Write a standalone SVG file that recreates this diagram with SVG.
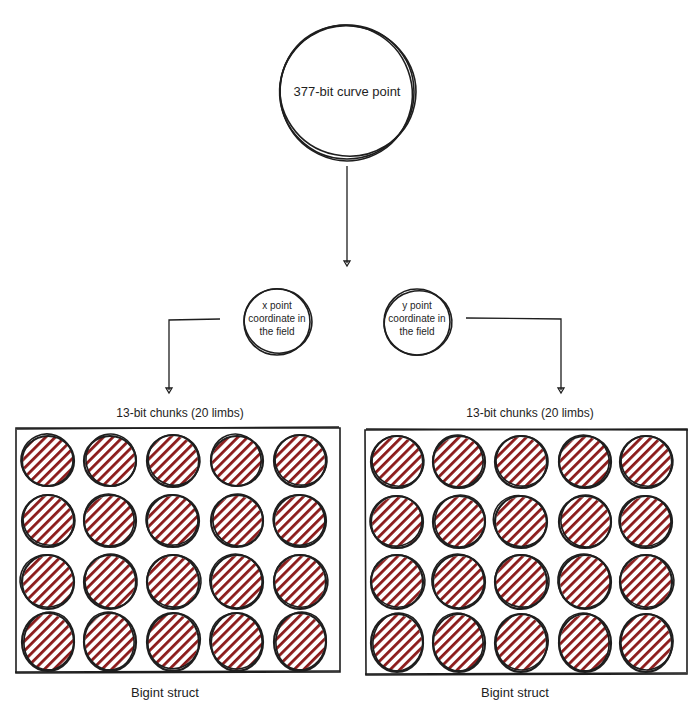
<svg xmlns="http://www.w3.org/2000/svg" width="700" height="712" viewBox="0 0 700 712">
<style>
.t{font-family:"Liberation Sans","DejaVu Sans",sans-serif;fill:#1e1e1e;text-anchor:middle}
.s{fill:none;stroke:#1e1e1e;stroke-width:1.6}
.sk{fill:none;stroke:#1e1e1e;stroke-width:2.2}
.h{fill:url(#hatch)}
.c{fill:none;stroke:#1e1e1e;stroke-width:1.3}
</style>
<defs>
<pattern id="hatch" patternUnits="userSpaceOnUse" width="6.8" height="6.8" patternTransform="rotate(45)">
<rect x="0" y="0" width="2.8" height="6.8" fill="#8b1a1a"/>
</pattern>
</defs>
<rect width="700" height="712" fill="#fff"/>

<g id="curve-point">
<ellipse class="s" cx="347" cy="92" rx="67" ry="67"/>
<ellipse class="s" cx="348" cy="91" rx="68" ry="65" transform="rotate(12 348 91)"/>
<ellipse class="s" cx="346" cy="93" rx="66" ry="68" transform="rotate(-20 346 93)"/>
<text class="t" x="347" y="96" font-size="13">377-bit curve point</text>
</g>

<g id="x-coord">
<ellipse class="s" cx="277" cy="322" rx="33" ry="33"/>
<ellipse class="s" cx="278" cy="321" rx="34" ry="32" transform="rotate(15 278 321)"/>
<text class="t" x="277" y="309" font-size="10">x point</text>
<text class="t" x="277" y="322" font-size="10">coordinate in</text>
<text class="t" x="277" y="335" font-size="10">the field</text>
</g>

<g id="y-coord">
<ellipse class="s" cx="417" cy="322" rx="33" ry="33"/>
<ellipse class="s" cx="418" cy="323" rx="34" ry="32" transform="rotate(-15 418 323)"/>
<text class="t" x="417" y="309" font-size="10">y point</text>
<text class="t" x="417" y="322" font-size="10">coordinate in</text>
<text class="t" x="417" y="335" font-size="10">the field</text>
</g>

<g id="connectors">
<path class="c" d="M347 166 L347 263"/>
<path class="c" d="M344 261 L347 266 L350 261 Z"/>
<path class="c" d="M220 319 L169 320 L169 390"/>
<path class="c" d="M166 388 L169 393 L172 388 Z"/>
<path class="c" d="M466 318 L561 319 L561 390"/>
<path class="c" d="M558 388 L561 393 L564 388 Z"/>
</g>

<g id="label-left-chunks"><text class="t" x="180" y="417" font-size="12">13-bit chunks (20 limbs)</text></g>
<g id="label-right-chunks"><text class="t" x="530" y="417" font-size="12">13-bit chunks (20 limbs)</text></g>

<g id="bigint-left">
<path class="s" d="M16 428 L340 428 L340 672 L16 673 Z"/>
<path class="s" d="M17 429 L339 427 M15 672 L340 671"/>
</g>
<g id="bigint-right">
<path class="s" d="M365 430 L687 429 L687 674 L366 675 Z"/>
<path class="s" d="M366 429 L688 430 M365 674 L686 673"/>
</g>

<g id="limbs-left">
<g id="L1"><ellipse class="h" cx="48" cy="461" rx="25" ry="25"/><ellipse class="sk" cx="48" cy="461" rx="26" ry="25"/><ellipse class="s" cx="47" cy="460" rx="26" ry="26" transform="rotate(20 47 460)"/></g>
<g id="L2"><ellipse class="h" cx="110" cy="461" rx="25" ry="25"/><ellipse class="sk" cx="110" cy="461" rx="26" ry="25"/><ellipse class="s" cx="111" cy="460" rx="25" ry="26" transform="rotate(-15 111 460)"/></g>
<g id="L3"><ellipse class="h" cx="173" cy="461" rx="25" ry="25"/><ellipse class="sk" cx="173" cy="461" rx="26" ry="26"/><ellipse class="s" cx="174" cy="460" rx="26" ry="25" transform="rotate(25 174 460)"/></g>
<g id="L4"><ellipse class="h" cx="237" cy="461" rx="25" ry="25"/><ellipse class="sk" cx="237" cy="461" rx="26" ry="25"/><ellipse class="s" cx="236" cy="460" rx="25" ry="26" transform="rotate(-20 236 460)"/></g>
<g id="L5"><ellipse class="h" cx="300" cy="461" rx="25" ry="25"/><ellipse class="sk" cx="300" cy="461" rx="26" ry="26"/><ellipse class="s" cx="301" cy="460" rx="26" ry="25" transform="rotate(15 301 460)"/></g>

<g id="L6"><ellipse class="h" cx="48" cy="521" rx="25" ry="25"/><ellipse class="sk" cx="48" cy="521" rx="26" ry="26"/><ellipse class="s" cx="49" cy="520" rx="26" ry="25" transform="rotate(20 49 520)"/></g>
<g id="L7"><ellipse class="h" cx="110" cy="521" rx="25" ry="25"/><ellipse class="sk" cx="110" cy="521" rx="26" ry="26"/><ellipse class="s" cx="109" cy="520" rx="25" ry="26" transform="rotate(-20 109 520)"/></g>
<g id="L8"><ellipse class="h" cx="173" cy="521" rx="25" ry="25"/><ellipse class="sk" cx="173" cy="521" rx="26" ry="26"/><ellipse class="s" cx="172" cy="520" rx="26" ry="25" transform="rotate(15 172 520)"/></g>
<g id="L9"><ellipse class="h" cx="237" cy="521" rx="25" ry="25"/><ellipse class="sk" cx="237" cy="521" rx="26" ry="26"/><ellipse class="s" cx="238" cy="520" rx="25" ry="26" transform="rotate(-15 238 520)"/></g>
<g id="L10"><ellipse class="h" cx="300" cy="521" rx="25" ry="25"/><ellipse class="sk" cx="300" cy="521" rx="26" ry="26"/><ellipse class="s" cx="299" cy="520" rx="26" ry="25" transform="rotate(25 299 520)"/></g>

<g id="L11"><ellipse class="h" cx="48" cy="582" rx="25" ry="26"/><ellipse class="sk" cx="48" cy="582" rx="26" ry="27"/><ellipse class="s" cx="47" cy="581" rx="27" ry="26" transform="rotate(20 47 581)"/></g>
<g id="L12"><ellipse class="h" cx="110" cy="582" rx="25" ry="26"/><ellipse class="sk" cx="110" cy="582" rx="26" ry="27"/><ellipse class="s" cx="111" cy="581" rx="26" ry="27" transform="rotate(-15 111 581)"/></g>
<g id="L13"><ellipse class="h" cx="173" cy="582" rx="25" ry="26"/><ellipse class="sk" cx="173" cy="582" rx="26" ry="27"/><ellipse class="s" cx="174" cy="581" rx="27" ry="26" transform="rotate(15 174 581)"/></g>
<g id="L14"><ellipse class="h" cx="237" cy="582" rx="25" ry="26"/><ellipse class="sk" cx="237" cy="582" rx="26" ry="27"/><ellipse class="s" cx="236" cy="581" rx="26" ry="27" transform="rotate(-20 236 581)"/></g>
<g id="L15"><ellipse class="h" cx="300" cy="582" rx="25" ry="26"/><ellipse class="sk" cx="300" cy="582" rx="26" ry="27"/><ellipse class="s" cx="301" cy="581" rx="27" ry="26" transform="rotate(20 301 581)"/></g>

<g id="L16"><ellipse class="h" cx="48" cy="642" rx="25" ry="28"/><ellipse class="sk" cx="48" cy="642" rx="26" ry="29"/><ellipse class="s" cx="49" cy="641" rx="25" ry="29" transform="rotate(10 49 641)"/></g>
<g id="L17"><ellipse class="h" cx="110" cy="642" rx="25" ry="28"/><ellipse class="sk" cx="110" cy="642" rx="26" ry="29"/><ellipse class="s" cx="109" cy="641" rx="25" ry="29" transform="rotate(-10 109 641)"/></g>
<g id="L18"><ellipse class="h" cx="173" cy="642" rx="25" ry="28"/><ellipse class="sk" cx="173" cy="642" rx="26" ry="29"/><ellipse class="s" cx="174" cy="641" rx="26" ry="28" transform="rotate(20 174 641)"/></g>
<g id="L19"><ellipse class="h" cx="237" cy="642" rx="25" ry="28"/><ellipse class="sk" cx="237" cy="642" rx="26" ry="29"/><ellipse class="s" cx="236" cy="641" rx="26" ry="28" transform="rotate(-15 236 641)"/></g>
<g id="L20"><ellipse class="h" cx="300" cy="642" rx="25" ry="28"/><ellipse class="sk" cx="300" cy="642" rx="26" ry="29"/><ellipse class="s" cx="301" cy="641" rx="25" ry="29" transform="rotate(10 301 641)"/></g>
</g>

<g id="limbs-right">
<g id="R1"><ellipse class="h" cx="397" cy="462" rx="25" ry="25"/><ellipse class="sk" cx="397" cy="462" rx="26" ry="26"/><ellipse class="s" cx="398" cy="461" rx="26" ry="25" transform="rotate(20 398 461)"/></g>
<g id="R2"><ellipse class="h" cx="459" cy="462" rx="25" ry="25"/><ellipse class="sk" cx="459" cy="462" rx="26" ry="26"/><ellipse class="s" cx="458" cy="461" rx="25" ry="26" transform="rotate(-15 458 461)"/></g>
<g id="R3"><ellipse class="h" cx="521" cy="462" rx="25" ry="25"/><ellipse class="sk" cx="521" cy="462" rx="26" ry="26"/><ellipse class="s" cx="522" cy="461" rx="26" ry="25" transform="rotate(15 522 461)"/></g>
<g id="R4"><ellipse class="h" cx="585" cy="462" rx="25" ry="25"/><ellipse class="sk" cx="585" cy="462" rx="26" ry="26"/><ellipse class="s" cx="584" cy="461" rx="25" ry="26" transform="rotate(-20 584 461)"/></g>
<g id="R5"><ellipse class="h" cx="646" cy="462" rx="25" ry="25"/><ellipse class="sk" cx="646" cy="462" rx="26" ry="26"/><ellipse class="s" cx="647" cy="461" rx="26" ry="25" transform="rotate(20 647 461)"/></g>

<g id="R6"><ellipse class="h" cx="397" cy="522" rx="25" ry="25"/><ellipse class="sk" cx="397" cy="522" rx="26" ry="26"/><ellipse class="s" cx="396" cy="521" rx="26" ry="25" transform="rotate(-15 396 521)"/></g>
<g id="R7"><ellipse class="h" cx="459" cy="522" rx="25" ry="25"/><ellipse class="sk" cx="459" cy="522" rx="26" ry="26"/><ellipse class="s" cx="460" cy="521" rx="25" ry="26" transform="rotate(20 460 521)"/></g>
<g id="R8"><ellipse class="h" cx="521" cy="522" rx="25" ry="25"/><ellipse class="sk" cx="521" cy="522" rx="26" ry="26"/><ellipse class="s" cx="520" cy="521" rx="27" ry="25" transform="rotate(25 520 521)"/></g>
<g id="R9"><ellipse class="h" cx="585" cy="522" rx="25" ry="25"/><ellipse class="sk" cx="585" cy="522" rx="26" ry="26"/><ellipse class="s" cx="586" cy="521" rx="25" ry="26" transform="rotate(-15 586 521)"/></g>
<g id="R10"><ellipse class="h" cx="646" cy="522" rx="25" ry="25"/><ellipse class="sk" cx="646" cy="522" rx="26" ry="26"/><ellipse class="s" cx="645" cy="521" rx="26" ry="25" transform="rotate(15 645 521)"/></g>

<g id="R11"><ellipse class="h" cx="397" cy="582" rx="25" ry="26"/><ellipse class="sk" cx="397" cy="582" rx="26" ry="27"/><ellipse class="s" cx="398" cy="581" rx="27" ry="26" transform="rotate(20 398 581)"/></g>
<g id="R12"><ellipse class="h" cx="459" cy="582" rx="25" ry="26"/><ellipse class="sk" cx="459" cy="582" rx="26" ry="27"/><ellipse class="s" cx="458" cy="581" rx="26" ry="27" transform="rotate(-20 458 581)"/></g>
<g id="R13"><ellipse class="h" cx="521" cy="582" rx="25" ry="26"/><ellipse class="sk" cx="521" cy="582" rx="26" ry="27"/><ellipse class="s" cx="522" cy="581" rx="27" ry="26" transform="rotate(15 522 581)"/></g>
<g id="R14"><ellipse class="h" cx="585" cy="582" rx="25" ry="26"/><ellipse class="sk" cx="585" cy="582" rx="26" ry="27"/><ellipse class="s" cx="584" cy="581" rx="26" ry="27" transform="rotate(-15 584 581)"/></g>
<g id="R15"><ellipse class="h" cx="646" cy="582" rx="25" ry="26"/><ellipse class="sk" cx="646" cy="582" rx="26" ry="27"/><ellipse class="s" cx="647" cy="581" rx="27" ry="26" transform="rotate(20 647 581)"/></g>

<g id="R16"><ellipse class="h" cx="397" cy="643" rx="25" ry="28"/><ellipse class="sk" cx="397" cy="643" rx="26" ry="29"/><ellipse class="s" cx="398" cy="642" rx="25" ry="29" transform="rotate(10 398 642)"/></g>
<g id="R17"><ellipse class="h" cx="459" cy="643" rx="25" ry="28"/><ellipse class="sk" cx="459" cy="643" rx="26" ry="29"/><ellipse class="s" cx="458" cy="642" rx="25" ry="29" transform="rotate(-10 458 642)"/></g>
<g id="R18"><ellipse class="h" cx="521" cy="643" rx="25" ry="28"/><ellipse class="sk" cx="521" cy="643" rx="26" ry="29"/><ellipse class="s" cx="522" cy="642" rx="26" ry="28" transform="rotate(15 522 642)"/></g>
<g id="R19"><ellipse class="h" cx="585" cy="643" rx="25" ry="28"/><ellipse class="sk" cx="585" cy="643" rx="26" ry="29"/><ellipse class="s" cx="584" cy="642" rx="25" ry="29" transform="rotate(-10 584 642)"/></g>
<g id="R20"><ellipse class="h" cx="646" cy="643" rx="25" ry="28"/><ellipse class="sk" cx="646" cy="643" rx="26" ry="29"/><ellipse class="s" cx="647" cy="642" rx="26" ry="28" transform="rotate(10 647 642)"/></g>
</g>

<g id="label-left-bigint"><text class="t" x="165" y="697" font-size="13">Bigint struct</text></g>
<g id="label-right-bigint"><text class="t" x="515" y="697" font-size="13">Bigint struct</text></g>
</svg>
